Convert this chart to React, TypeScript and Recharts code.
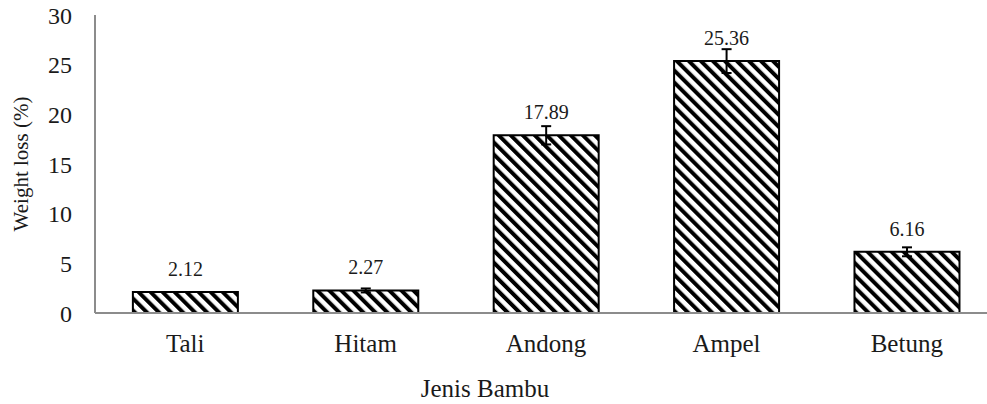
import { BarChart, Bar, XAxis, YAxis, ErrorBar, LabelList } from "recharts";

// bamboo species and measured weight loss
const categories = ["Tali", "Hitam", "Andong", "Ampel", "Betung"];
const weightLoss = [2.12, 2.27, 17.89, 25.36, 6.16];
const errors = [0, 0.2, 0.92, 1.2, 0.45];
const yTicks = [0, 5, 10, 15, 20, 25, 30];

const FONT = "'Liberation Serif', 'Times New Roman', serif";
const AXIS_GRAY = "#8c8c8c";
const INK = "#1a1a1a";

const data = categories.map((name, i) => ({
  name,
  value: weightLoss[i],
  err: errors[i],
}));

const XTitle = (props: any) => {
  const vb = props.viewBox || {};
  return (
    <text
      x={vb.x + 390}
      y={vb.y + 84}
      textAnchor="middle"
      style={{ fontFamily: FONT, fontSize: 25, fill: INK }}
    >
      Jenis Bambu
    </text>
  );
};

const YTitle = (props: any) => {
  const vb = props.viewBox || {};
  const cx = 28;
  const cy = vb.y + vb.height / 2;
  return (
    <text
      x={cx}
      y={cy}
      transform={`rotate(-90, ${cx}, ${cy})`}
      textAnchor="middle"
      style={{ fontFamily: FONT, fontSize: 21, fill: INK }}
    >
      Weight  loss (%)
    </text>
  );
};

export default function App() {
  return (
    <div
      style={{
        position: "absolute",
        left: 0,
        top: 0,
        width: 987,
        height: 404,
        overflow: "hidden",
        background: "#fff",
        fontFamily: FONT,
      }}
    >
      <BarChart
        width={1000}
        height={404}
        data={data}
        margin={{ top: 15, right: 3, left: 0, bottom: 0 }}
        barCategoryGap="21%"
        style={{ fontFamily: FONT }}
      >
        <defs>
          <pattern
            id="hatch"
            width="8.5"
            height="8.5"
            patternUnits="userSpaceOnUse"
            patternTransform="rotate(-45)"
          >
            <rect width="8.5" height="8.5" fill="#fff" />
            <rect width="4" height="8.5" fill="#000" />
          </pattern>
        </defs>
        <XAxis
          dataKey="name"
          height={91}
          tickLine={false}
          tickSize={0}
          tickMargin={21}
          axisLine={{ stroke: AXIS_GRAY, strokeWidth: 2 }}
          tick={{ fontFamily: FONT, fontSize: 25, fill: INK }}
          label={{ content: XTitle }}
        />
        <YAxis
          width={95}
          domain={[0, 30]}
          ticks={yTicks}
          interval={0}
          tickLine={false}
          tickSize={0}
          tickMargin={23}
          axisLine={{ stroke: AXIS_GRAY, strokeWidth: 2 }}
          tick={{ fontFamily: FONT, fontSize: 24, fill: INK }}
          label={{ content: YTitle }}
        />
        <Bar
          dataKey="value"
          fill="url(#hatch)"
          stroke="#000"
          strokeWidth={2}
          isAnimationActive={false}
        >
          <ErrorBar dataKey="err" width={5} stroke="#000" strokeWidth={2} />
          <LabelList
            dataKey="value"
            position="top"
            offset={16}
            style={{ fontFamily: FONT, fontSize: 20, fill: INK }}
          />
        </Bar>
      </BarChart>
    </div>
  );
}
